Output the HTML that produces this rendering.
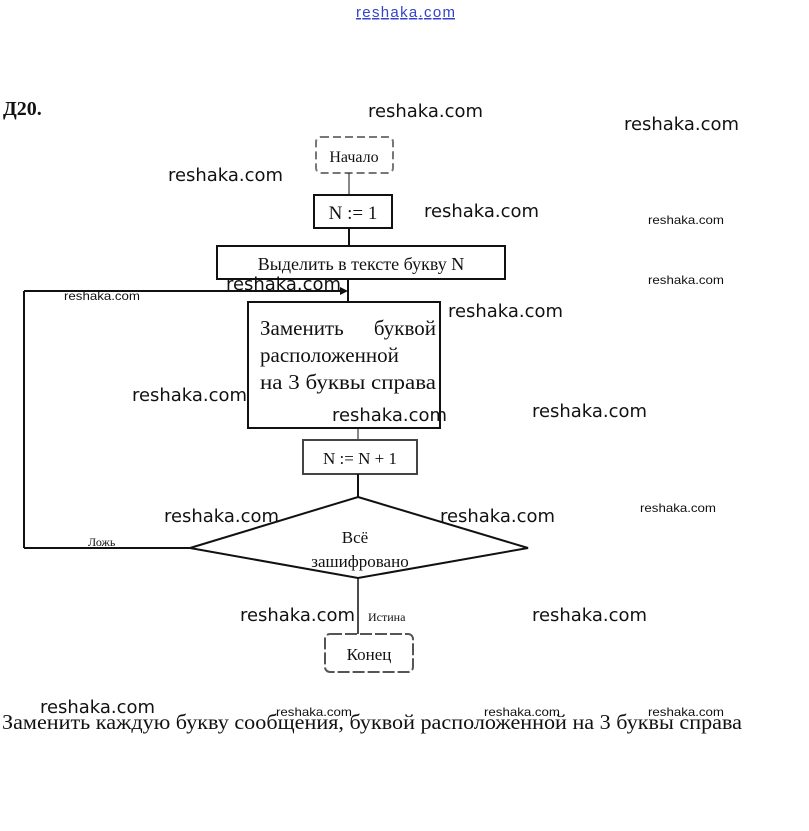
<!DOCTYPE html>
<html><head><meta charset="utf-8"><style>
body{margin:0;background:#fff;width:809px;height:831px;overflow:hidden}
svg{display:block}
.w{font-family:"DejaVu Sans","Liberation Sans",sans-serif;font-size:18px;fill:#111}
.ws{font-family:"Liberation Sans",sans-serif;font-size:12px;fill:#111}
.t{font-family:"Liberation Serif",serif;fill:#111}
</style></head><body>
<svg width="809" height="831" viewBox="0 0 809 831">
<text x="356" y="17" font-family="Liberation Sans,sans-serif" font-size="15" fill="#3344cc" text-decoration="underline" textLength="99">reshaka.com</text>
<text x="3" y="115" class="t" font-size="20" font-weight="bold">Д20.</text>
<g fill="none" stroke="#111" stroke-width="2">
<rect x="316" y="137" width="77" height="36" rx="5" stroke="#777" stroke-dasharray="8 4"/>
<line x1="349" y1="173" x2="349" y2="195" stroke-width="1"/>
<rect x="314" y="195" width="78" height="33"/>
<line x1="349" y1="228" x2="349" y2="246"/>
<rect x="217" y="246" width="288" height="33"/>
<line x1="348" y1="279" x2="348" y2="302"/>
<rect x="248" y="302" width="192" height="126"/>
<line x1="358" y1="428" x2="358" y2="440" stroke-width="1"/>
<rect x="303" y="440" width="114" height="34" stroke="#444"/>
<line x1="358" y1="474" x2="358" y2="497"/>
<polygon points="358,497 528,548 358,578 190,548"/>
<line x1="190" y1="548" x2="24" y2="548"/>
<line x1="24" y1="548" x2="24" y2="291"/>
<line x1="24" y1="291" x2="342" y2="291"/>
<line x1="358" y1="578" x2="358" y2="634" stroke-width="1.5"/>
<rect x="325" y="634" width="88" height="38" rx="5" stroke="#555" stroke-dasharray="12 3"/>
</g>
<polygon points="348,291 340,287 340,295" fill="#111"/>
<text x="354" y="162" text-anchor="middle" class="t" font-size="16" fill="#777">Начало</text>
<text x="353" y="219" text-anchor="middle" class="t" font-size="19">N := 1</text>
<text x="361" y="270" text-anchor="middle" class="t" font-size="18">Выделить в тексте букву N</text>
<text x="260" y="335" class="t" font-size="21">Заменить</text>
<text x="436" y="335" text-anchor="end" class="t" font-size="21">буквой</text>
<text x="260" y="362" class="t" font-size="21">расположенной</text>
<text x="260" y="389" class="t" font-size="21" fill="#555" textLength="176" lengthAdjust="spacingAndGlyphs">на 3 буквы справа</text>
<text x="360" y="464" text-anchor="middle" class="t" font-size="17" fill="#555">N := N + 1</text>
<text x="355" y="543" text-anchor="middle" class="t" font-size="17">Всё</text>
<text x="360" y="567" text-anchor="middle" class="t" font-size="17">зашифровано</text>
<text x="88" y="546" class="t" font-size="12">Ложь</text>
<text x="368" y="621" class="t" font-size="12">Истина</text>
<text x="369" y="660" text-anchor="middle" class="t" font-size="17" fill="#555">Конец</text>
<text x="2" y="729" class="t" font-size="21" fill="#444" textLength="740" lengthAdjust="spacingAndGlyphs">Заменить каждую букву сообщения, буквой расположенной на 3 буквы справа</text>
<g class="w">
<text x="368" y="117" textLength="115" lengthAdjust="spacingAndGlyphs">reshaka.com</text>
<text x="624" y="130" textLength="115" lengthAdjust="spacingAndGlyphs">reshaka.com</text>
<text x="168" y="181" textLength="115" lengthAdjust="spacingAndGlyphs">reshaka.com</text>
<text x="424" y="217" textLength="115" lengthAdjust="spacingAndGlyphs">reshaka.com</text>
<text x="226" y="290" textLength="115" lengthAdjust="spacingAndGlyphs">reshaka.com</text>
<text x="448" y="317" textLength="115" lengthAdjust="spacingAndGlyphs">reshaka.com</text>
<text x="132" y="401" textLength="115" lengthAdjust="spacingAndGlyphs">reshaka.com</text>
<text x="332" y="421" textLength="115" lengthAdjust="spacingAndGlyphs">reshaka.com</text>
<text x="532" y="417" textLength="115" lengthAdjust="spacingAndGlyphs">reshaka.com</text>
<text x="164" y="522" textLength="115" lengthAdjust="spacingAndGlyphs">reshaka.com</text>
<text x="440" y="522" textLength="115" lengthAdjust="spacingAndGlyphs">reshaka.com</text>
<text x="240" y="621" textLength="115" lengthAdjust="spacingAndGlyphs">reshaka.com</text>
<text x="532" y="621" textLength="115" lengthAdjust="spacingAndGlyphs">reshaka.com</text>
<text x="40" y="713" textLength="115" lengthAdjust="spacingAndGlyphs">reshaka.com</text>
</g>
<g class="ws">
<text x="648" y="224" textLength="76" lengthAdjust="spacingAndGlyphs">reshaka.com</text>
<text x="648" y="284" textLength="76" lengthAdjust="spacingAndGlyphs">reshaka.com</text>
<text x="64" y="300" textLength="76" lengthAdjust="spacingAndGlyphs">reshaka.com</text>
<text x="640" y="512" textLength="76" lengthAdjust="spacingAndGlyphs">reshaka.com</text>
<text x="276" y="716" textLength="76" lengthAdjust="spacingAndGlyphs">reshaka.com</text>
<text x="484" y="716" textLength="76" lengthAdjust="spacingAndGlyphs">reshaka.com</text>
<text x="648" y="716" textLength="76" lengthAdjust="spacingAndGlyphs">reshaka.com</text>
</g>
</svg>
</body></html>
